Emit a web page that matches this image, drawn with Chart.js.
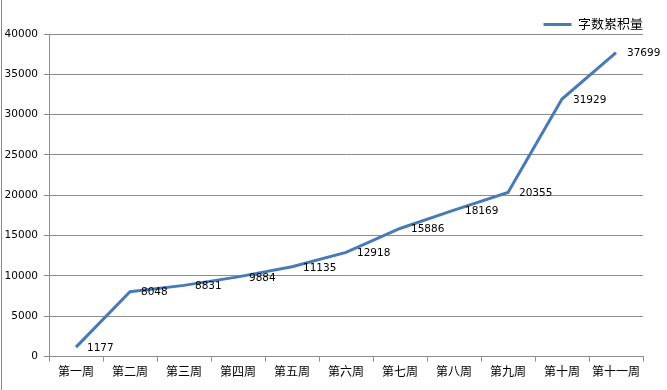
<!DOCTYPE html>
<html>
<head>
<meta charset="utf-8">
<script src="https://cdn.jsdelivr.net/npm/chart.js@4"></script>
<style>
  html, body { margin: 0; padding: 0; background: #fff; }
  #wrap { position: relative; width: 667px; height: 390px; }
  #edge { position: absolute; left: 1px; top: 0; width: 1px; height: 390px; background: #8a8a8a; }
</style>
</head>
<body>
<div id="wrap">
  <canvas id="chart" width="667" height="390"></canvas>
  <div id="edge"></div>
</div>
<script>
const weeks = ["第一周", "第二周", "第三周", "第四周", "第五周", "第六周", "第七周", "第八周", "第九周", "第十周", "第十一周"];
const wordTotals = [1177, 8048, 8831, 9884, 11135, 12918, 15886, 18169, 20355, 31929, 37699];
const seriesName = "字数累积量";
const yTicks = [0, 5000, 10000, 15000, 20000, 25000, 30000, 35000, 40000];

const lineColor = "#4a7ab4";
const gridColor = "#8c8c8c";
const fontFamily = "'DejaVu Sans', 'Noto Sans CJK SC', sans-serif";

// draw value labels to the right of each point
const valueLabels = {
  id: "valueLabels",
  afterDatasetsDraw(chart) {
    const ctx = chart.ctx;
    const meta = chart.getDatasetMeta(0);
    ctx.save();
    ctx.font = "10.5px " + fontFamily;
    ctx.fillStyle = "#000";
    ctx.textAlign = "left";
    ctx.textBaseline = "middle";
    meta.data.forEach((pt, i) => {
      ctx.fillText(String(chart.data.datasets[0].data[i]), pt.x + 11, pt.y + 1);
    });
    ctx.restore();
  }
};

new Chart(document.getElementById("chart"), {
  type: "line",
  data: {
    labels: weeks,
    datasets: [{
      label: seriesName,
      data: wordTotals,
      borderColor: lineColor,
      backgroundColor: lineColor,
      borderWidth: 3,
      pointRadius: 0,
      tension: 0,
      fill: false
    }]
  },
  options: {
    responsive: false,
    animation: false,
    layout: { padding: { top: 18, right: 24, bottom: 6, left: 0 } },
    plugins: {
      legend: {
        position: "top",
        align: "end",
        maxHeight: 16,
        labels: {
          usePointStyle: true,
          pointStyle: "line",
          pointStyleWidth: 28,
          color: "#000",
          font: { family: fontFamily, size: 13 },
          padding: 0
        }
      },
      tooltip: { enabled: false }
    },
    scales: {
      x: {
        offset: true,
        grid: {
          offset: true,
          drawOnChartArea: false,
          color: gridColor,
          tickLength: 5
        },
        border: { color: gridColor },
        ticks: {
          color: "#000",
          font: { family: fontFamily, size: 12 },
          maxRotation: 0,
          autoSkip: false,
          padding: 4
        }
      },
      y: {
        min: 0,
        max: 40000,
        afterBuildTicks(scale) {
          scale.ticks = yTicks.map(v => ({ value: v }));
        },
        afterFit(scale) { scale.width = 49; },
        grid: { color: gridColor, tickLength: 5 },
        border: { color: gridColor },
        ticks: {
          color: "#000",
          font: { family: fontFamily, size: 10.5 },
          padding: 6,
          callback: v => String(v)
        }
      }
    }
  },
  plugins: [valueLabels]
});
</script>
</body>
</html>
